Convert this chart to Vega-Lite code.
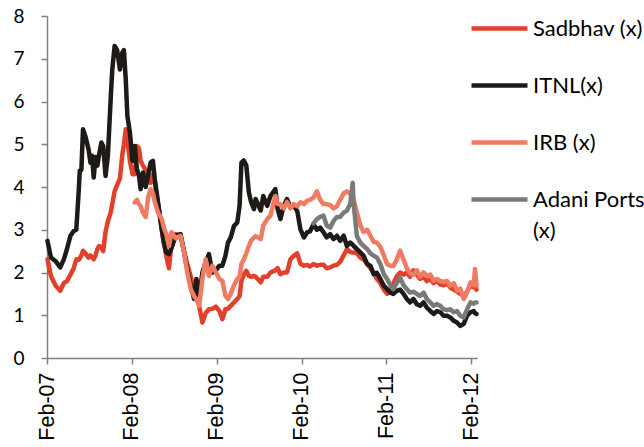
{
  "$schema": "https://vega.github.io/schema/vega-lite/v6.json",
  "width": 430,
  "height": 342,
  "autosize": {"type": "none"},
  "padding": {"left": 47, "top": 16, "right": 167, "bottom": 89},
  "background": "white",
  "config": {
    "view": {"stroke": null},
    "axis": {"grid": false, "domainColor": "#808080", "tickColor": "#808080", "domainWidth": 1.5, "tickWidth": 1.5, "labelColor": "#000000"}
  },
  "data": {
    "values": [
      {"d": "2007-02-03", "sadbhav": 2.31, "itnl": 2.74},
      {"d": "2007-02-18", "sadbhav": 1.92, "itnl": 2.35},
      {"d": "2007-03-09", "sadbhav": 1.7, "itnl": 2.27},
      {"d": "2007-03-30", "sadbhav": 1.57, "itnl": 2.12},
      {"d": "2007-04-14", "sadbhav": 1.75, "itnl": 2.3},
      {"d": "2007-04-28", "sadbhav": 1.8, "itnl": 2.55},
      {"d": "2007-05-13", "sadbhav": 1.95, "itnl": 2.86},
      {"d": "2007-05-27", "sadbhav": 2.1, "itnl": 2.97},
      {"d": "2007-06-07", "sadbhav": 2.31, "itnl": 3.0},
      {"d": "2007-06-11", "sadbhav": 2.3, "itnl": 3.33},
      {"d": "2007-06-18", "sadbhav": 2.3, "itnl": 3.95},
      {"d": "2007-06-22", "sadbhav": 2.33, "itnl": 4.38},
      {"d": "2007-06-29", "sadbhav": 2.4, "itnl": 4.4},
      {"d": "2007-07-06", "sadbhav": 2.51, "itnl": 5.35},
      {"d": "2007-07-16", "sadbhav": 2.45, "itnl": 5.19},
      {"d": "2007-07-30", "sadbhav": 2.35, "itnl": 4.88},
      {"d": "2007-08-07", "sadbhav": 2.4, "itnl": 4.57},
      {"d": "2007-08-14", "sadbhav": 2.35, "itnl": 4.73},
      {"d": "2007-08-21", "sadbhav": 2.31, "itnl": 4.22},
      {"d": "2007-08-29", "sadbhav": 2.4, "itnl": 4.7},
      {"d": "2007-09-06", "sadbhav": 2.55, "itnl": 4.5},
      {"d": "2007-09-13", "sadbhav": 2.62, "itnl": 4.75},
      {"d": "2007-09-23", "sadbhav": 2.6, "itnl": 5.04},
      {"d": "2007-10-01", "sadbhav": 2.5, "itnl": 4.96},
      {"d": "2007-10-11", "sadbhav": 2.95, "itnl": 4.26},
      {"d": "2007-10-21", "sadbhav": 3.2, "itnl": 4.73},
      {"d": "2007-11-02", "sadbhav": 3.4, "itnl": 6.05},
      {"d": "2007-11-09", "sadbhav": 3.6, "itnl": 6.75},
      {"d": "2007-11-19", "sadbhav": 3.9, "itnl": 7.3},
      {"d": "2007-11-30", "sadbhav": 4.05, "itnl": 7.2},
      {"d": "2007-12-12", "sadbhav": 4.2, "itnl": 6.75},
      {"d": "2007-12-22", "sadbhav": 4.75, "itnl": 7.14},
      {"d": "2007-12-29", "sadbhav": 5.0, "itnl": 7.2},
      {"d": "2008-01-06", "sadbhav": 5.35, "itnl": 6.52},
      {"d": "2008-01-13", "sadbhav": 5.1, "itnl": 5.66},
      {"d": "2008-01-24", "sadbhav": 4.6, "itnl": 5.27},
      {"d": "2008-02-04", "sadbhav": 4.3, "itnl": 4.61},
      {"d": "2008-02-14", "sadbhav": 4.3, "itnl": 4.96, "irb": 3.64},
      {"d": "2008-02-23", "sadbhav": 4.96, "itnl": 4.42, "irb": 3.7},
      {"d": "2008-03-03", "sadbhav": 4.9, "itnl": 4.26, "irb": 3.6},
      {"d": "2008-03-10", "sadbhav": 4.61, "itnl": 3.95, "irb": 3.55},
      {"d": "2008-03-20", "sadbhav": 4.5, "itnl": 4.34, "irb": 3.4},
      {"d": "2008-04-01", "sadbhav": 4.4, "itnl": 4.0, "irb": 3.3},
      {"d": "2008-04-11", "sadbhav": 4.2, "itnl": 4.26, "irb": 3.75},
      {"d": "2008-04-22", "sadbhav": 4.1, "itnl": 4.57, "irb": 3.95},
      {"d": "2008-05-02", "sadbhav": 4.3, "itnl": 4.61, "irb": 3.85},
      {"d": "2008-05-10", "sadbhav": 4.1, "itnl": 4.18, "irb": 3.65},
      {"d": "2008-05-24", "sadbhav": 3.6, "itnl": 3.64, "irb": 3.4},
      {"d": "2008-06-09", "sadbhav": 3.0, "itnl": 3.01, "irb": 3.25},
      {"d": "2008-06-18", "sadbhav": 2.7, "itnl": 2.7, "irb": 3.05},
      {"d": "2008-06-28", "sadbhav": 2.4, "itnl": 2.47, "irb": 2.9},
      {"d": "2008-07-10", "sadbhav": 2.1, "itnl": 2.43, "irb": 2.62},
      {"d": "2008-07-21", "sadbhav": 2.7, "itnl": 2.57, "irb": 2.94},
      {"d": "2008-08-08", "sadbhav": 2.9, "itnl": 2.86, "irb": 2.8},
      {"d": "2008-08-29", "sadbhav": 2.85, "itnl": 2.9, "irb": 2.86},
      {"d": "2008-09-13", "sadbhav": 2.5, "itnl": 2.47, "irb": 2.47},
      {"d": "2008-09-27", "sadbhav": 2.2, "itnl": 2.08, "irb": 2.0},
      {"d": "2008-10-12", "sadbhav": 1.9, "itnl": 1.69, "irb": 1.61},
      {"d": "2008-10-26", "sadbhav": 1.6, "itnl": 1.38, "irb": 1.45},
      {"d": "2008-11-05", "sadbhav": 1.45, "itnl": 1.85, "irb": 1.38},
      {"d": "2008-11-17", "sadbhav": 1.22, "itnl": 1.45, "irb": 1.22},
      {"d": "2008-12-01", "sadbhav": 0.83, "itnl": 2.0, "irb": 1.85},
      {"d": "2008-12-15", "sadbhav": 1.05, "itnl": 2.24, "irb": 2.31},
      {"d": "2008-12-29", "sadbhav": 1.14, "itnl": 2.43, "irb": 1.92},
      {"d": "2009-01-13", "sadbhav": 1.15, "itnl": 2.0, "irb": 2.16},
      {"d": "2009-01-28", "sadbhav": 1.2, "itnl": 2.05, "irb": 2.0},
      {"d": "2009-02-12", "sadbhav": 1.1, "itnl": 2.16, "irb": 1.85},
      {"d": "2009-02-25", "sadbhav": 0.91, "itnl": 2.16, "irb": 1.8},
      {"d": "2009-03-10", "sadbhav": 1.14, "itnl": 2.39, "irb": 1.46},
      {"d": "2009-03-21", "sadbhav": 1.15, "itnl": 2.7, "irb": 1.38},
      {"d": "2009-04-02", "sadbhav": 1.22, "itnl": 2.82, "irb": 1.5},
      {"d": "2009-04-16", "sadbhav": 1.3, "itnl": 3.09, "irb": 1.7},
      {"d": "2009-04-30", "sadbhav": 1.38, "itnl": 3.17, "irb": 1.85},
      {"d": "2009-05-10", "sadbhav": 1.45, "itnl": 3.56, "irb": 1.9},
      {"d": "2009-05-18", "sadbhav": 1.8, "itnl": 4.57, "irb": 2.2},
      {"d": "2009-05-28", "sadbhav": 1.95, "itnl": 4.62, "irb": 2.3},
      {"d": "2009-06-08", "sadbhav": 2.04, "itnl": 4.5, "irb": 2.45},
      {"d": "2009-06-19", "sadbhav": 1.92, "itnl": 3.87, "irb": 2.62},
      {"d": "2009-06-29", "sadbhav": 1.9, "itnl": 3.64, "irb": 2.75},
      {"d": "2009-07-11", "sadbhav": 1.92, "itnl": 3.48, "irb": 2.82},
      {"d": "2009-07-18", "sadbhav": 1.9, "itnl": 3.72, "irb": 2.85},
      {"d": "2009-08-09", "sadbhav": 1.77, "itnl": 3.45, "irb": 2.78},
      {"d": "2009-08-20", "sadbhav": 1.9, "itnl": 3.79, "irb": 3.1},
      {"d": "2009-09-06", "sadbhav": 1.9, "itnl": 3.56, "irb": 3.25},
      {"d": "2009-09-20", "sadbhav": 2.0, "itnl": 3.79, "irb": 3.33},
      {"d": "2009-10-11", "sadbhav": 2.05, "itnl": 3.95, "irb": 3.79},
      {"d": "2009-10-21", "sadbhav": 2.1, "itnl": 3.48, "irb": 3.6},
      {"d": "2009-11-02", "sadbhav": 1.96, "itnl": 3.25, "irb": 3.6},
      {"d": "2009-11-16", "sadbhav": 2.0, "itnl": 3.56, "irb": 3.5},
      {"d": "2009-11-30", "sadbhav": 2.0, "itnl": 3.72, "irb": 3.65},
      {"d": "2009-12-15", "sadbhav": 2.31, "itnl": 3.52, "irb": 3.5},
      {"d": "2009-12-29", "sadbhav": 2.39, "itnl": 3.56, "irb": 3.6},
      {"d": "2010-01-13", "sadbhav": 2.45, "itnl": 3.44, "irb": 3.55},
      {"d": "2010-01-27", "sadbhav": 2.2, "itnl": 3.01, "irb": 3.64},
      {"d": "2010-02-11", "sadbhav": 2.16, "itnl": 2.82, "irb": 3.6},
      {"d": "2010-02-25", "sadbhav": 2.18, "itnl": 2.94, "irb": 3.68},
      {"d": "2010-03-09", "sadbhav": 2.14, "itnl": 2.96, "irb": 3.7},
      {"d": "2010-03-24", "sadbhav": 2.2, "itnl": 3.13, "irb": 3.75, "adani": 3.15},
      {"d": "2010-04-08", "sadbhav": 2.16, "itnl": 3.0, "irb": 3.9, "adani": 3.25},
      {"d": "2010-04-22", "sadbhav": 2.18, "itnl": 3.05, "irb": 3.7, "adani": 3.3},
      {"d": "2010-05-06", "sadbhav": 2.18, "itnl": 2.94, "irb": 3.6, "adani": 3.33},
      {"d": "2010-05-20", "sadbhav": 2.1, "itnl": 2.82, "irb": 3.6, "adani": 3.1},
      {"d": "2010-06-04", "sadbhav": 2.12, "itnl": 2.9, "irb": 3.58, "adani": 3.05},
      {"d": "2010-06-18", "sadbhav": 2.16, "itnl": 2.78, "irb": 3.5, "adani": 3.2},
      {"d": "2010-07-03", "sadbhav": 2.18, "itnl": 2.86, "irb": 3.55, "adani": 3.3},
      {"d": "2010-07-17", "sadbhav": 2.25, "itnl": 2.74, "irb": 3.7, "adani": 3.3},
      {"d": "2010-08-01", "sadbhav": 2.4, "itnl": 2.86, "irb": 3.85, "adani": 3.4},
      {"d": "2010-08-15", "sadbhav": 2.55, "itnl": 2.62, "irb": 3.9, "adani": 3.45},
      {"d": "2010-08-29", "sadbhav": 2.48, "itnl": 2.7, "irb": 3.85, "adani": 3.6},
      {"d": "2010-09-09", "sadbhav": 2.47, "itnl": 2.65, "irb": 3.75, "adani": 4.1},
      {"d": "2010-09-13", "sadbhav": 2.47, "itnl": 2.62, "irb": 3.7, "adani": 3.6},
      {"d": "2010-09-27", "sadbhav": 2.45, "itnl": 2.55, "irb": 3.4, "adani": 2.85},
      {"d": "2010-10-12", "sadbhav": 2.35, "itnl": 2.47, "irb": 3.1, "adani": 2.7},
      {"d": "2010-10-26", "sadbhav": 2.3, "itnl": 2.39, "irb": 2.95, "adani": 2.62},
      {"d": "2010-11-10", "sadbhav": 2.2, "itnl": 2.2, "irb": 3.0, "adani": 2.55},
      {"d": "2010-11-24", "sadbhav": 2.1, "itnl": 2.16, "irb": 2.86, "adani": 2.45},
      {"d": "2010-12-08", "sadbhav": 2.0, "itnl": 1.96, "irb": 2.72, "adani": 2.39},
      {"d": "2010-12-22", "sadbhav": 1.85, "itnl": 1.99, "irb": 2.7, "adani": 2.35},
      {"d": "2011-01-06", "sadbhav": 1.75, "itnl": 1.85, "irb": 2.6, "adani": 2.2},
      {"d": "2011-01-21", "sadbhav": 1.6, "itnl": 1.69, "irb": 2.4, "adani": 1.96},
      {"d": "2011-02-04", "sadbhav": 1.5, "itnl": 1.61, "irb": 2.2, "adani": 1.85},
      {"d": "2011-02-18", "sadbhav": 1.55, "itnl": 1.53, "irb": 2.16, "adani": 1.7},
      {"d": "2011-03-03", "sadbhav": 1.75, "itnl": 1.5, "irb": 2.15, "adani": 1.61},
      {"d": "2011-03-17", "sadbhav": 1.9, "itnl": 1.57, "irb": 2.3, "adani": 1.75},
      {"d": "2011-04-01", "sadbhav": 2.0, "itnl": 1.6, "irb": 2.51, "adani": 1.88},
      {"d": "2011-04-16", "sadbhav": 1.95, "itnl": 1.5, "irb": 2.3, "adani": 1.7},
      {"d": "2011-04-30", "sadbhav": 2.0, "itnl": 1.38, "irb": 2.1, "adani": 1.61},
      {"d": "2011-05-14", "sadbhav": 1.9, "itnl": 1.3, "irb": 1.98, "adani": 1.53},
      {"d": "2011-05-28", "sadbhav": 2.05, "itnl": 1.38, "irb": 1.95, "adani": 1.55},
      {"d": "2011-06-12", "sadbhav": 1.95, "itnl": 1.26, "irb": 2.05, "adani": 1.5},
      {"d": "2011-06-26", "sadbhav": 1.85, "itnl": 1.22, "irb": 1.9, "adani": 1.45},
      {"d": "2011-07-11", "sadbhav": 1.9, "itnl": 1.3, "irb": 2.0, "adani": 1.53},
      {"d": "2011-07-25", "sadbhav": 1.8, "itnl": 1.18, "irb": 1.92, "adani": 1.38},
      {"d": "2011-08-09", "sadbhav": 1.85, "itnl": 1.1, "irb": 1.95, "adani": 1.3},
      {"d": "2011-08-23", "sadbhav": 1.75, "itnl": 1.03, "irb": 1.81, "adani": 1.22},
      {"d": "2011-09-07", "sadbhav": 1.8, "itnl": 1.1, "irb": 1.85, "adani": 1.26},
      {"d": "2011-09-21", "sadbhav": 1.72, "itnl": 1.07, "irb": 1.8, "adani": 1.22},
      {"d": "2011-10-05", "sadbhav": 1.7, "itnl": 0.99, "irb": 1.78, "adani": 1.14},
      {"d": "2011-10-20", "sadbhav": 1.75, "itnl": 0.99, "irb": 1.8, "adani": 1.12},
      {"d": "2011-11-03", "sadbhav": 1.65, "itnl": 0.95, "irb": 1.69, "adani": 1.14},
      {"d": "2011-11-18", "sadbhav": 1.6, "itnl": 0.87, "irb": 1.75, "adani": 1.07},
      {"d": "2011-12-02", "sadbhav": 1.55, "itnl": 0.83, "irb": 1.57, "adani": 1.1},
      {"d": "2011-12-16", "sadbhav": 1.5, "itnl": 0.75, "irb": 1.62, "adani": 0.99},
      {"d": "2011-12-31", "sadbhav": 1.45, "itnl": 0.8, "irb": 1.38, "adani": 0.95},
      {"d": "2012-01-14", "sadbhav": 1.55, "itnl": 0.99, "irb": 1.53, "adani": 1.14},
      {"d": "2012-01-29", "sadbhav": 1.7, "itnl": 1.07, "irb": 1.77, "adani": 1.3},
      {"d": "2012-02-12", "sadbhav": 1.65, "itnl": 1.1, "irb": 1.7, "adani": 1.27},
      {"d": "2012-02-17", "sadbhav": 1.7, "itnl": 1.05, "irb": 2.08, "adani": 1.3},
      {"d": "2012-02-24", "sadbhav": 1.6, "itnl": 1.03, "irb": 1.7, "adani": 1.3}
    ]
  },
  "transform": [
    {"fold": ["sadbhav", "itnl", "irb", "adani"], "as": ["series", "value"]},
    {"filter": "isValid(datum.value)"}
  ],
  "mark": {"type": "line", "strokeWidth": 4.5, "strokeJoin": "round", "strokeCap": "round"},
  "encoding": {
    "x": {
      "field": "d",
      "type": "temporal",
      "scale": {"domain": [{"year": 2007, "month": 2, "date": 1}, {"year": 2012, "month": 2, "date": 26}]},
      "axis": {
        "title": null,
        "values": [
          {"year": 2007, "month": 2, "date": 1},
          {"year": 2008, "month": 2, "date": 1},
          {"year": 2009, "month": 2, "date": 1},
          {"year": 2010, "month": 2, "date": 1},
          {"year": 2011, "month": 2, "date": 1},
          {"year": 2012, "month": 2, "date": 1}
        ],
        "format": "%b-%y",
        "labelAngle": -90,
        "labelFont": "Liberation Sans",
        "labelFontSize": 21.5,
        "tickSize": 6,
        "labelPadding": 8
      }
    },
    "y": {
      "field": "value",
      "type": "quantitative",
      "scale": {"domain": [0, 8], "nice": false},
      "axis": {
        "title": null,
        "values": [0, 1, 2, 3, 4, 5, 6, 7, 8],
        "tickSize": 6,
        "labelPadding": 17,
        "labelFont": "Lato",
        "labelFontSize": 19
      }
    },
    "color": {
      "field": "series",
      "type": "nominal",
      "scale": {
        "domain": ["sadbhav", "itnl", "irb", "adani"],
        "range": ["#E2402A", "#1E1A18", "#EE7B62", "#7A7A7A"]
      },
      "legend": {
        "title": null,
        "orient": "none",
        "legendX": 422,
        "legendY": -18,
        "padding": 0,
        "symbolType": "stroke",
        "symbolSize": 3136,
        "symbolStrokeWidth": 4.5,
        "labelFont": "Lato",
        "labelFontSize": 22,
        "labelColor": "#000000",
        "labelOffset": 3,
        "labelLimit": 200,
        "rowPadding": 15,
        "labelExpr": "datum.value == 'adani' ? ['Adani Ports', '(x)'] : datum.value == 'sadbhav' ? 'Sadbhav (x)' : datum.value == 'itnl' ? 'ITNL(x)' : 'IRB (x)'",
        "encode": {"labels": {"update": {"lineHeight": {"value": 31}}}}
      }
    }
  }
}
